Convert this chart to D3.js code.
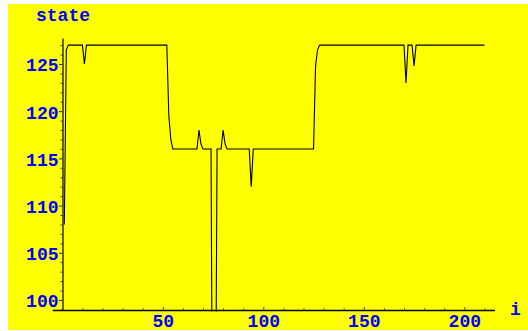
<!DOCTYPE html>
<html>
<head>
<meta charset="utf-8">
<script src="https://cdn.jsdelivr.net/npm/d3@7"></script>
<style>
body { margin: 0; background: #ffffff; }
svg { display: block; }
</style>
</head>
<body>
<div id="canvas"></div>
<script>
// state value for i = 1, 2, 3, ...
var state = [
  108, 126.5,
  127, 127, 127, 127, 127, 127, 127, 127,
  125,
  127, 127, 127, 127, 127, 127, 127, 127, 127, 127,
  127, 127, 127, 127, 127, 127, 127, 127, 127, 127,
  127, 127, 127, 127, 127, 127, 127, 127, 127, 127,
  127, 127, 127, 127, 127, 127, 127, 127, 127, 127,
  127,
  119.5, 117,
  116, 116, 116, 116, 116, 116, 116, 116, 116, 116,
  116, 116, 116,
  118, 116.5,
  116, 116, 116, 116, 116,
  70, 75,
  116, 116, 116,
  118, 116.5,
  116, 116, 116, 116, 116, 116, 116, 116, 116, 116,
  116, 116,
  112,
  116, 116, 116, 116, 116, 116, 116, 116, 116, 116,
  116, 116, 116, 116, 116, 116, 116, 116, 116, 116,
  116, 116, 116, 116, 116, 116, 116, 116, 116, 116,
  116,
  124.8, 126.5,
  127, 127, 127, 127, 127, 127, 127, 127, 127, 127,
  127, 127, 127, 127, 127, 127, 127, 127, 127, 127,
  127, 127, 127, 127, 127, 127, 127, 127, 127, 127,
  127, 127, 127, 127, 127, 127, 127, 127, 127, 127,
  127, 127, 127,
  123,
  127, 127, 127,
  124.8,
  127, 127, 127, 127, 127, 127, 127, 127, 127, 127,
  127, 127, 127, 127, 127, 127, 127, 127, 127, 127,
  127, 127, 127, 127, 127, 127, 127, 127, 127, 127,
  127, 127, 127, 127, 127
];
var xTicks = [50, 100, 150, 200];
var xMinor = [10, 20, 30, 40, 60, 70, 80, 90, 110, 120, 130, 140, 160, 170, 180, 190, 210];
var yTicks = [100, 105, 110, 115, 120, 125];
var yMinor = [99, 101, 102, 103, 104, 106, 107, 108, 109, 111, 112, 113, 114,
              116, 117, 118, 119, 121, 122, 123, 124, 126, 127];

var width = 528, height = 331;
var labelFont = "'Liberation Mono', 'DejaVu Sans Mono', monospace";

var svg = d3.select("#canvas").append("svg")
    .attr("width", width)
    .attr("height", height);

svg.append("rect")
    .attr("x", 8)
    .attr("y", 4)
    .attr("width", width - 8)
    .attr("height", 326)
    .style("fill", "#ffff00");

var x = d3.scaleLinear().domain([-5, 215]).range([52.25, 494.45]);
var y = d3.scaleLinear().domain([98.94, 127.75]).range([310, 38]);

svg.append("clipPath").attr("id", "clip")
  .append("rect")
    .attr("x", 40).attr("y", 30)
    .attr("width", 470).attr("height", 281.5);

// data line
var line = d3.line()
    .x(function(d, i) { return x(i + 1); })
    .y(function(d) { return y(d); });

svg.append("path")
    .datum(state)
    .attr("d", line)
    .attr("clip-path", "url(#clip)")
    .attr("fill", "none")
    .attr("stroke", "#000000")
    .attr("stroke-width", 1.1)
    .attr("stroke-linejoin", "miter");

// y axis
var yMinorAxis = svg.append("g")
    .attr("transform", "translate(62.5,0)")
    .call(d3.axisLeft(y).tickValues(yMinor).tickSize(2).tickFormat(""));
yMinorAxis.select(".domain").remove();
yMinorAxis.selectAll("line").attr("stroke", "#4a4a7a");

var yAxis = svg.append("g")
    .attr("transform", "translate(62.5,0)")
    .call(d3.axisLeft(y).tickValues(yTicks).tickSize(3.5).tickSizeOuter(0).tickPadding(0.5));
yAxis.select(".domain").attr("stroke", "#000000").attr("stroke-width", 1.2);
yAxis.selectAll(".tick line").attr("stroke", "#333333");
yAxis.selectAll("text")
    .attr("dy", "0.38em")
    .style("font-family", labelFont)
    .style("font-weight", "bold")
    .style("font-size", "18px")
    .style("fill", "#0000ff");

// x axis
var xMinorAxis = svg.append("g")
    .attr("transform", "translate(0,310)")
    .call(d3.axisBottom(x).tickValues(xMinor).tickSize(-2).tickFormat(""));
xMinorAxis.select(".domain").remove();
xMinorAxis.selectAll("line").attr("stroke", "#6a6a8a");

var xAxis = svg.append("g")
    .attr("transform", "translate(0,310)")
    .call(d3.axisBottom(x).tickValues(xTicks).tickSize(-3).tickSizeOuter(0).tickPadding(4));
xAxis.select(".domain").attr("stroke", "#000000").attr("stroke-width", 1.3);
xAxis.selectAll(".tick line").attr("stroke", "#4a4a7a");
xAxis.selectAll("text")
    .style("font-family", labelFont)
    .style("font-weight", "bold")
    .style("font-size", "18px")
    .style("fill", "#0000ff");

// axis titles
svg.append("text")
    .attr("x", 36)
    .attr("y", 20.7)
    .text("state")
    .style("font-family", labelFont)
    .style("font-weight", "bold")
    .style("font-size", "18px")
    .style("fill", "#0000ff");

svg.append("text")
    .attr("x", 510)
    .attr("y", 315)
    .text("i")
    .style("font-family", labelFont)
    .style("font-weight", "bold")
    .style("font-size", "18px")
    .style("fill", "#0000ff");
</script>
</body>
</html>
